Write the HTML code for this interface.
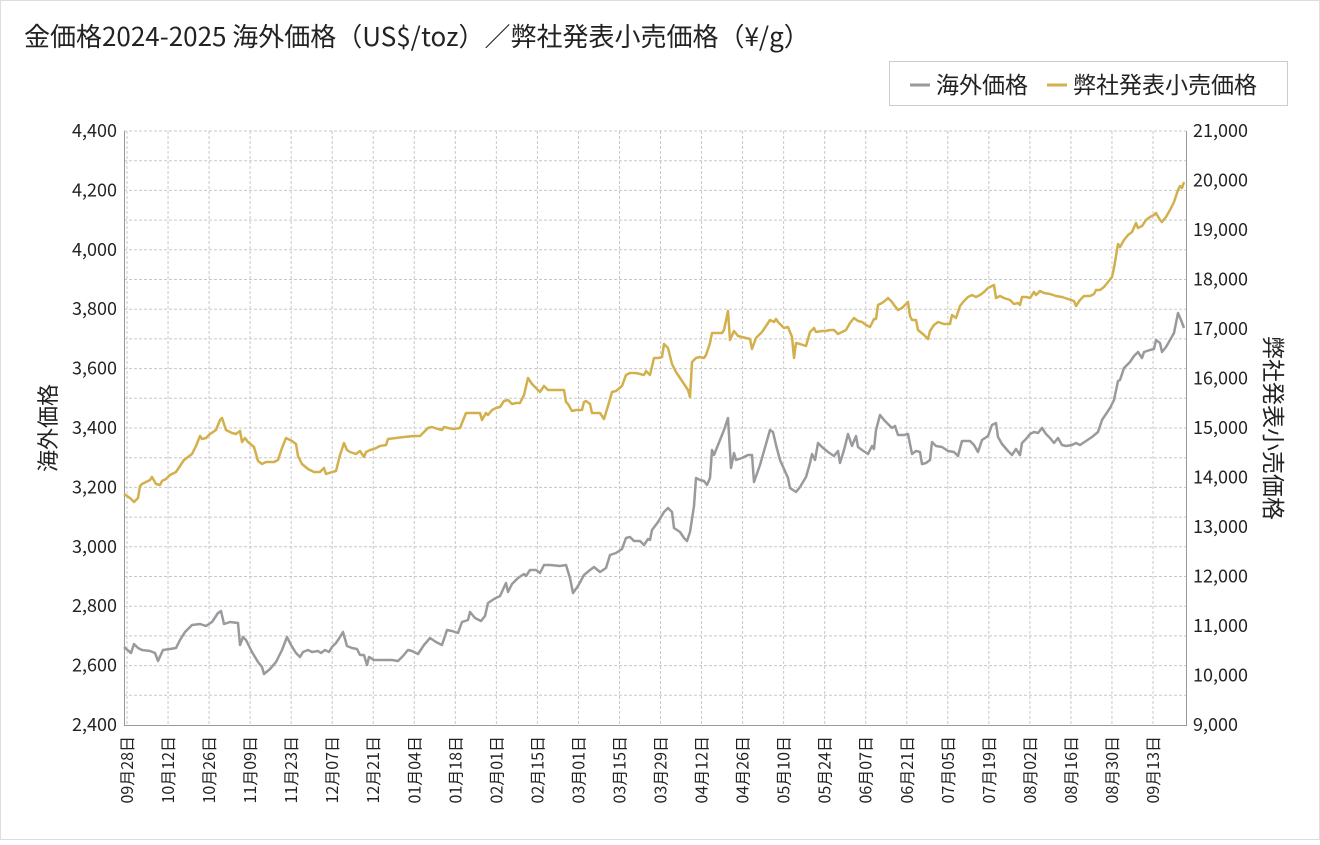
<!DOCTYPE html>
<html><head><meta charset="utf-8"><style>
html,body{margin:0;padding:0;background:#fff;}
svg text{font-family:"Noto Sans CJK JP","Liberation Sans",sans-serif;fill:#222;}
</style></head><body>
<svg width="1320" height="840" xmlns="http://www.w3.org/2000/svg">
<rect x="0.5" y="0.5" width="1319" height="839" fill="#fff" stroke="#ddd"/>
<text x="24" y="46" font-size="26">金価格2024-2025 海外価格（US$/toz）／弊社発表小売価格（¥/g）</text>
<rect x="889.5" y="61.5" width="398" height="44" fill="#fff" stroke="#ccc"/>
<line x1="910" y1="85" x2="930" y2="85" stroke="#9a9a9e" stroke-width="3"/>
<text x="936" y="93" font-size="23">海外価格</text>
<line x1="1047" y1="85" x2="1067" y2="85" stroke="#d2b04c" stroke-width="3"/>
<text x="1073" y="93" font-size="23">弊社発表小売価格</text>
<g id="grid" stroke="#c8c8c8" stroke-width="1" stroke-dasharray="3,2"></g>
<g id="ytl" font-size="18" text-anchor="end"></g>
<g id="ytr" font-size="18"></g>
<g id="xt" font-size="16"></g>
<line x1="124.5" y1="131" x2="124.5" y2="725" stroke="#999"/>
<line x1="1186.5" y1="131" x2="1186.5" y2="725" stroke="#999"/>
<line x1="124" y1="725.5" x2="1187" y2="725.5" stroke="#999"/>
<text transform="translate(56,428) rotate(-90)" font-size="22" text-anchor="middle">海外価格</text>
<text transform="translate(1265,428) rotate(90)" font-size="23" text-anchor="middle">弊社発表小売価格</text>
<polyline id="gray" fill="none" stroke="#9a9a9e" stroke-width="2.5" stroke-linejoin="round"/>
<polyline id="gold" fill="none" stroke="#d2b04c" stroke-width="2.5" stroke-linejoin="round"/>
</svg>
<script>
var NS="http://www.w3.org/2000/svg";
function el(p,t,a,txt){var e=document.createElementNS(NS,t);for(var k in a)e.setAttribute(k,a[k]);if(txt)e.textContent=txt;document.getElementById(p).appendChild(e);}
for(var i=0;i<=20;i++){var y=131+i*29.7;if(i<20)el('grid','line',{x1:124,x2:1186,y1:y,y2:y});}
var L=["4,400","4,200","4,000","3,800","3,600","3,400","3,200","3,000","2,800","2,600","2,400"];
var R=["21,000","20,000","19,000","18,000","17,000","16,000","15,000","14,000","13,000","12,000","11,000","10,000","9,000"];
L.forEach(function(t,i){el('ytl','text',{x:117,y:131+i*59.4+6},t);});
R.forEach(function(t,i){el('ytr','text',{x:1193,y:131+i*49.5+6},t);});
var X=["09月28日","10月12日","10月26日","11月09日","11月23日","12月07日","12月21日","01月04日","01月18日","02月01日","02月15日","03月01日","03月15日","03月29日","04月12日","04月26日","05月10日","05月24日","06月07日","06月21日","07月05日","07月19日","08月02日","08月16日","08月30日","09月13日"];
X.forEach(function(t,i){var x=127+i*41.04;el('grid','line',{x1:x,x2:x,y1:131,y2:725});
el('xt','text',{transform:'translate('+(x+6)+',736) rotate(-90)','text-anchor':'end'},t);});
var g="124,647 131,653 134,644 138,648 142,650 150,651 155,653 158,661 163,650 170,649 176,648 180,640 185,632 192,625 200,624 206,626 212,622 218,613 221,611 224,624 230,622 238,623 240,645 243,637 246,640 252,652 258,662 262,667 264,674 270,669 276,662 282,650 287,637 291,645 296,653 300,657 303,652 308,650 312,652 318,651 321,653 325,650 329,652 332,647 336,643 340,637 343,632 347,646 352,648 357,649 360,655 364,655 367,665 369,657 374,660 382,660 392,660 398,661 403,656 408,650 412,651 418,654 424,645 430,638 436,642 442,645 447,630 452,631 458,633 462,622 468,620 470,612 475,618 481,621 485,616 488,603 494,599 500,596 506,583 508,592 512,584 518,578 524,574 526,576 530,570 536,570 540,573 544,565 550,565 560,566 566,565 570,578 573,593 578,586 584,575 590,570 594,567 600,572 606,568 610,555 616,553 622,549 626,538 630,537 634,541 640,541 644,545 648,539 650,540 652,530 658,522 664,512 668,508 672,512 674,528 680,532 684,538 687,541 690,532 694,506 696,478 700,480 704,481 707,485 710,478 712,450 714,455 720,440 724,430 728,418 731,468 734,453 736,460 742,458 748,455 752,455 754,482 760,465 766,444 770,430 773,432 776,445 780,460 784,469 788,478 790,488 796,492 800,487 806,477 810,463 812,454 815,460 818,443 822,447 828,452 834,456 838,451 840,463 844,450 848,434 852,446 856,436 858,447 862,450 868,454 872,446 874,449 876,430 880,415 884,420 888,424 892,428 895,426 898,435 904,435 908,434 912,454 916,451 920,452 922,464 926,463 930,460 932,442 936,446 942,447 948,451 954,452 958,456 962,441 970,441 974,445 978,452 982,440 988,436 992,425 996,423 998,437 1002,444 1008,451 1012,455 1016,449 1020,455 1022,443 1026,439 1030,434 1034,432 1038,433 1042,428 1046,434 1050,438 1054,443 1058,438 1062,445 1066,446 1072,445 1076,443 1080,445 1086,441 1092,437 1098,432 1102,420 1106,414 1110,408 1114,400 1118,381 1120,380 1124,368 1130,362 1134,356 1138,352 1142,358 1144,352 1150,350 1154,349 1156,340 1160,343 1162,352 1166,347 1170,340 1174,333 1178,313 1181,320 1184,328";
var o="124,494 130,498 134,502 138,498 140,486 142,484 146,482 150,480 152,477 156,484 160,485 162,481 166,479 170,475 176,472 180,466 184,460 192,454 196,446 200,436 202,439 206,438 210,434 216,430 220,420 222,418 226,430 232,433 236,434 240,431 242,442 245,438 248,442 254,447 258,461 262,464 266,462 274,462 278,460 282,448 286,438 292,441 296,444 298,456 302,464 308,469 314,472 320,472 324,468 326,474 332,472 336,471 340,455 344,443 347,450 350,452 356,454 360,451 364,457 366,452 370,450 374,449 380,446 386,445 388,439 396,438 404,437 414,436 420,436 424,432 428,428 432,427 438,429 442,430 444,427 448,428 454,429 460,428 464,418 466,413 470,413 476,413 480,413 482,420 486,413 488,415 492,410 496,408 500,407 504,401 508,400 512,404 516,403 520,403 524,395 528,378 532,384 536,388 540,392 544,386 548,390 552,390 558,390 564,390 566,402 568,404 572,411 576,410 582,410 584,402 586,401 590,404 592,413 596,413 600,413 604,419 608,406 612,392 616,391 622,386 626,375 630,373 636,373 640,374 644,375 646,371 650,375 654,358 658,358 662,357 664,344 668,348 672,364 676,372 680,378 684,384 688,390 690,397 692,362 696,358 700,357 704,358 706,355 710,343 712,333 716,333 722,333 724,330 728,311 730,340 734,331 738,336 742,337 746,338 750,339 752,349 756,338 762,332 766,326 770,320 774,322 776,319 778,322 784,328 788,327 792,337 794,358 796,343 800,344 806,346 810,332 814,328 816,332 822,331 826,331 830,330 834,330 838,334 842,332 846,330 850,323 854,318 858,321 862,322 866,325 870,327 874,319 876,319 878,305 882,303 886,300 888,298 892,302 894,305 898,310 902,308 906,304 908,302 910,316 912,320 916,320 918,330 924,335 928,339 930,331 934,325 938,322 944,324 950,324 952,315 956,318 960,306 964,301 968,297 972,295 976,297 980,295 984,292 988,288 994,285 996,298 1000,296 1004,298 1010,300 1014,304 1018,303 1020,305 1022,297 1026,297 1030,298 1034,292 1036,295 1040,291 1044,293 1050,294 1056,296 1062,297 1068,299 1074,301 1076,306 1080,300 1084,296 1090,296 1094,294 1096,290 1100,290 1104,287 1108,282 1112,277 1114,268 1116,256 1118,244 1120,247 1124,240 1128,235 1132,232 1136,223 1138,228 1142,226 1146,220 1150,217 1154,215 1156,213 1160,220 1162,222 1166,217 1170,210 1174,202 1178,190 1180,186 1182,188 1184,182";
document.getElementById('gray').setAttribute('points',g);
document.getElementById('gold').setAttribute('points',o);
</script>
</body></html>
